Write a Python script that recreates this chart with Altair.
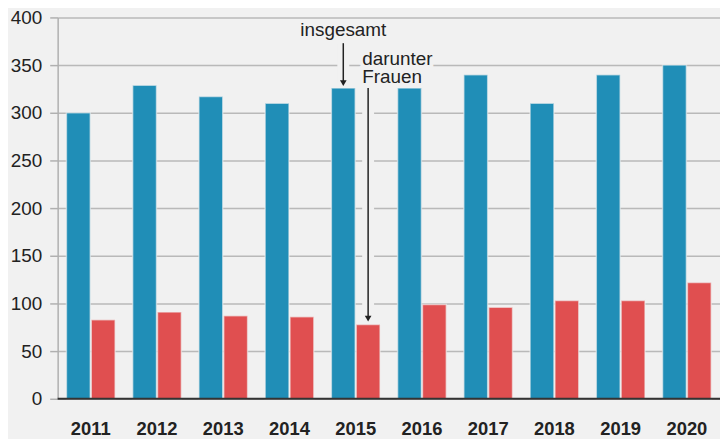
import altair as alt
import pandas as pd

years = ["2011", "2012", "2013", "2014", "2015", "2016", "2017", "2018", "2019", "2020"]
insgesamt = [300, 329, 317, 310, 326, 326, 340, 310, 340, 350]
frauen = [83, 91, 87, 86, 78, 99, 96, 103, 103, 122]
series = ["insgesamt", "darunter Frauen"]
colors = ["#208EB7", "#E04F50"]
y_ticks = [0, 50, 100, 150, 200, 250, 300, 350, 400]

# annotation anchors (data coordinates)
ann_year = "2015"
label_total = "insgesamt"
label_women = ["darunter", "Frauen"]
label_total_y = 381
label_women_y = [350, 331.5]
arrow_total = (373, 331)
arrow_women = (326, 84)

BG = "#f1f1f1"
FONT = "Liberation Sans"
TXT = "#222222"

rows = []
for i, yr in enumerate(years):
    rows.append({"year": yr, "series": series[0], "value": insgesamt[i]})
    rows.append({"year": yr, "series": series[1], "value": frauen[i]})
df = pd.DataFrame(rows)

x_enc = alt.X(
    "year:N",
    scale=alt.Scale(domain=years, paddingInner=0.265, paddingOuter=0.1325),
    axis=alt.Axis(
        title=None, domain=False, ticks=False, labelAngle=0,
        labelFont=FONT, labelFontSize=18.5, labelFontWeight="bold",
        labelColor=TXT, labelPadding=21,
    ),
)
xo_enc = alt.XOffset("series:N", scale=alt.Scale(domain=series, paddingInner=0.04))
y_scale = alt.Scale(domain=[0, 400], nice=False)

base = alt.Chart(df)

bars = base.mark_bar(stroke=BG, strokeWidth=1.5, strokeOpacity=0.6).encode(
    x=x_enc,
    xOffset=xo_enc,
    y=alt.Y(
        "value:Q",
        scale=y_scale,
        axis=alt.Axis(
            title=None, values=y_ticks, grid=True, gridColor="#b9b9b9",
            gridWidth=1.5, domain=True, domainColor="#b0b0b0", domainWidth=1.5,
            tickColor="#b0b0b0", tickSize=8, tickWidth=1.5,
            labelFont=FONT, labelFontSize=19, labelColor=TXT, labelPadding=8,
        ),
    ),
    color=alt.Color("series:N", scale=alt.Scale(domain=series, range=colors), legend=None),
)

baseline = alt.Chart(pd.DataFrame({"v": [0]})).mark_rule(
    color="#333333", strokeWidth=2.2
).encode(y=alt.Y("v:Q", scale=y_scale))

arrows_df = pd.DataFrame([
    {"year": ann_year, "series": series[0], "y1": arrow_total[0], "y2": arrow_total[1]},
    {"year": ann_year, "series": series[1], "y1": arrow_women[0], "y2": arrow_women[1]},
])
arr = alt.Chart(arrows_df)
arrow_mask = arr.mark_rule(color=BG, strokeWidth=12).encode(
    x=x_enc, xOffset=xo_enc,
    y=alt.Y("y1:Q", scale=y_scale), y2="y2:Q",
)
arrow_line = arr.mark_rule(color=TXT, strokeWidth=1.5).encode(
    x=x_enc, xOffset=xo_enc,
    y=alt.Y("y1:Q", scale=y_scale), y2="y2:Q",
)
arrow_head = arr.mark_point(
    shape="triangle-down", filled=True, color=TXT, size=45, opacity=1
).encode(
    x=x_enc, xOffset=xo_enc, y=alt.Y("y2:Q", scale=y_scale),
)

t1_df = pd.DataFrame([{"year": ann_year, "series": series[0], "v": label_total_y, "t": label_total}])
t2_df = pd.DataFrame([
    {"year": ann_year, "series": series[1], "v": label_women_y[0], "t": label_women[0]},
    {"year": ann_year, "series": series[1], "v": label_women_y[1], "t": label_women[1]},
])

def txt(data, align, dx, mask):
    kw = dict(font=FONT, fontSize=19, align=align, baseline="alphabetic", dx=dx)
    if mask:
        m = alt.Chart(data).mark_text(color=BG, stroke=BG, strokeWidth=8, **kw)
    else:
        m = alt.Chart(data).mark_text(color=TXT, **kw)
    return m.encode(x=x_enc, xOffset=xo_enc, y=alt.Y("v:Q", scale=y_scale), text="t:N")

chart = alt.layer(
    arrow_mask,
    txt(t1_df, "center", 0, True),
    txt(t2_df, "left", -6, True),
    bars,
    baseline,
    arrow_line,
    arrow_head,
    txt(t1_df, "center", 0, False),
    txt(t2_df, "left", -6, False),
).properties(
    width=667, height=384,
    padding={"left": 50, "top": 8, "right": 0, "bottom": 39},
    autosize="none",
    background=BG,
).configure_view(stroke=None)

chart.save("out.html", embed_options={"renderer": "svg", "actions": False})
